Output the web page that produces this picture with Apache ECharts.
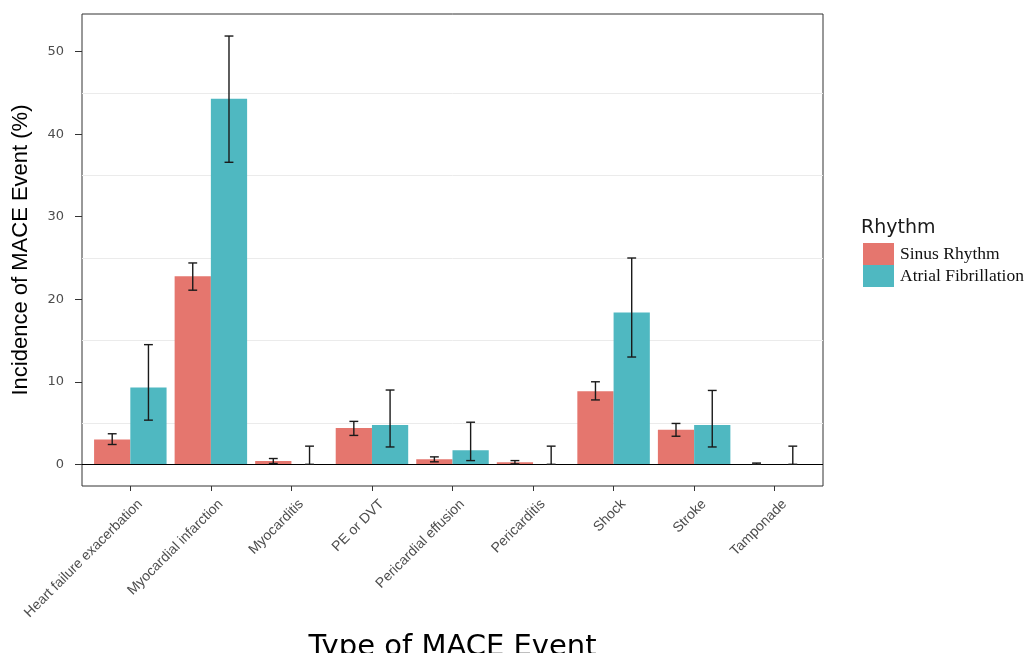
<!DOCTYPE html>
<html>
<head>
<meta charset="utf-8">
<script src="https://cdn.jsdelivr.net/npm/echarts@6/dist/echarts.min.js"></script>
<style>
  html, body { margin: 0; padding: 0; background: #fff; }
  #chart { width: 1028px; height: 653px; }
</style>
</head>
<body>
<div id="chart"></div>
<script>
// Event types on the x axis
const categories = [
  'Heart failure exacerbation', 'Myocardial infarction', 'Myocarditis',
  'PE or DVT', 'Pericardial effusion', 'Pericarditis', 'Shock', 'Stroke', 'Tamponade'
];
// Incidence (%) with confidence limits, sinus rhythm
const sinusRhythm     = [3.0, 22.8, 0.4, 4.4, 0.6, 0.25, 8.85, 4.2, 0.05];
const sinusRhythmLow  = [2.4, 21.1, 0.1, 3.5, 0.3, 0.05, 7.8, 3.4, 0.0];
const sinusRhythmHigh = [3.7, 24.4, 0.7, 5.2, 0.9, 0.45, 10.0, 4.95, 0.15];
// Incidence (%) with confidence limits, atrial fibrillation
const atrialFib     = [9.3, 44.3, 0, 4.75, 1.7, 0, 18.4, 4.75, 0];
const atrialFibLow  = [5.35, 36.6, 0, 2.1, 0.45, 0, 13.0, 2.1, 0];
const atrialFibHigh = [14.5, 51.9, 2.2, 9.0, 5.1, 2.2, 25.0, 8.95, 2.2];
// Axis tick labels
const yTicks = [0, 10, 20, 30, 40, 50];
const minorGrid = [5, 15, 25, 35, 45];

const seriesNames = ['Sinus Rhythm', 'Atrial Fibrillation'];
const seriesColors = ['#E5766E', '#4FB8C1'];

const dodge = 0.45;     // width of one bar in category units
const capHalf = 0.055;  // half width of error-bar caps

function barRenderer(offsetSign) {
  return function (params, api) {
    const i = api.value(0);
    const v = api.value(1);
    const x0 = offsetSign < 0 ? i - dodge : i;
    const p0 = api.coord([x0, 0]);
    const p1 = api.coord([x0 + dodge, v]);
    return {
      type: 'rect',
      shape: { x: p0[0], y: p1[1], width: p1[0] - p0[0], height: p0[1] - p1[1] },
      style: { fill: api.visual('color') }
    };
  };
}

function errorRenderer(offsetSign) {
  return function (params, api) {
    const i = api.value(0) + offsetSign * dodge / 2;
    const lo = api.coord([i, api.value(1)]);
    const hi = api.coord([i, api.value(2)]);
    const cl = api.coord([i - capHalf, 0])[0];
    const cr = api.coord([i + capHalf, 0])[0];
    const st = { stroke: '#1a1a1a', lineWidth: 1.4 };
    return {
      type: 'group',
      children: [
        { type: 'line', shape: { x1: lo[0], y1: lo[1], x2: hi[0], y2: hi[1] }, style: st },
        { type: 'line', shape: { x1: cl, y1: hi[1], x2: cr, y2: hi[1] }, style: st },
        { type: 'line', shape: { x1: cl, y1: lo[1], x2: cr, y2: lo[1] }, style: st }
      ]
    };
  };
}

const idx = categories.map((_, i) => i);

const option = {
  animation: false,
  backgroundColor: '#ffffff',
  title: {
    text: 'Rhythm',
    left: 856, top: 214,
    textStyle: { fontFamily: 'DejaVu Sans', fontSize: 19, fontWeight: 'normal', color: '#1a1a1a' }
  },
  legend: {
    data: seriesNames.map((n, k) => ({ name: n, icon: 'rect', itemStyle: { color: seriesColors[k] } })),
    orient: 'vertical',
    left: 858, top: 238,
    itemWidth: 31, itemHeight: 22, itemGap: 0,
    selectedMode: false,
    textStyle: { fontFamily: 'Liberation Serif', fontSize: 17.5, color: '#111', padding: [0, 0, 0, 1] }
  },
  grid: {
    left: 82, top: 14, width: 741, height: 472,
    outerBoundsMode: 'none',
    containLabel: false,
    show: true, borderColor: '#333333', borderWidth: 1, backgroundColor: '#ffffff'
  },
  xAxis: {
    type: 'value',
    min: -0.6, max: 8.6,
    name: 'Type of MACE Event',
    nameLocation: 'middle',
    nameGap: 147,
    nameTextStyle: { fontFamily: 'DejaVu Sans', fontSize: 29, color: '#000' },
    axisLine: { show: false, onZero: false },
    splitLine: { show: false },
    axisTick: { show: true, customValues: idx, length: 5, lineStyle: { color: '#333' } },
    axisLabel: {
      customValues: idx,
      rotate: 45,
      margin: 6,
      verticalAlign: 'top',
      padding: [7, 0, 0, 0],
      fontFamily: 'Liberation Sans', fontSize: 14, color: '#4D4D4D',
      formatter: v => categories[Math.round(v)]
    }
  },
  yAxis: {
    type: 'value',
    min: -2.63, max: 54.57,
    name: 'Incidence of MACE Event (%)',
    nameLocation: 'middle',
    nameGap: 50,
    nameTextStyle: { fontFamily: 'Liberation Sans', fontSize: 22, color: '#000' },
    axisLine: { show: false, onZero: false },
    splitLine: { show: false },
    axisTick: { show: true, customValues: yTicks, length: 7, lineStyle: { color: '#333' } },
    axisLabel: {
      customValues: yTicks,
      margin: 18,
      fontFamily: 'DejaVu Sans', fontSize: 13, color: '#4D4D4D'
    }
  },
  series: [
    {
      name: 'gridlines', type: 'line', data: [], silent: true, z: 1,
      markLine: {
        z: 1,
        silent: true, symbol: 'none', label: { show: false },
        lineStyle: { color: '#EBEBEB', width: 1, type: 'solid' },
        data: minorGrid.map(v => ({ yAxis: v }))
      }
    },
    {
      name: seriesNames[0], type: 'custom',
      itemStyle: { color: seriesColors[0] },
      renderItem: barRenderer(-1),
      data: idx.map(i => [i, sinusRhythm[i]]),
      z: 2
    },
    {
      name: seriesNames[1], type: 'custom',
      itemStyle: { color: seriesColors[1] },
      renderItem: barRenderer(1),
      data: idx.map(i => [i, atrialFib[i]]),
      z: 2
    },
    {
      name: 'zero', type: 'line', data: [], silent: true, z: 3,
      markLine: {
        z: 3,
        silent: true, symbol: 'none', label: { show: false },
        lineStyle: { color: '#000', width: 1.2, type: 'solid' },
        data: [{ yAxis: 0 }]
      }
    },
    {
      name: 'sinusErr', type: 'custom', z: 4,
      renderItem: errorRenderer(-1),
      data: idx.map(i => [i, sinusRhythmLow[i], sinusRhythmHigh[i]])
    },
    {
      name: 'afErr', type: 'custom', z: 4,
      renderItem: errorRenderer(1),
      data: idx.map(i => [i, atrialFibLow[i], atrialFibHigh[i]])
    }
  ]
};

const chart = echarts.init(document.getElementById('chart'), null, { renderer: 'canvas' });
chart.setOption(option);
</script>
</body>
</html>
